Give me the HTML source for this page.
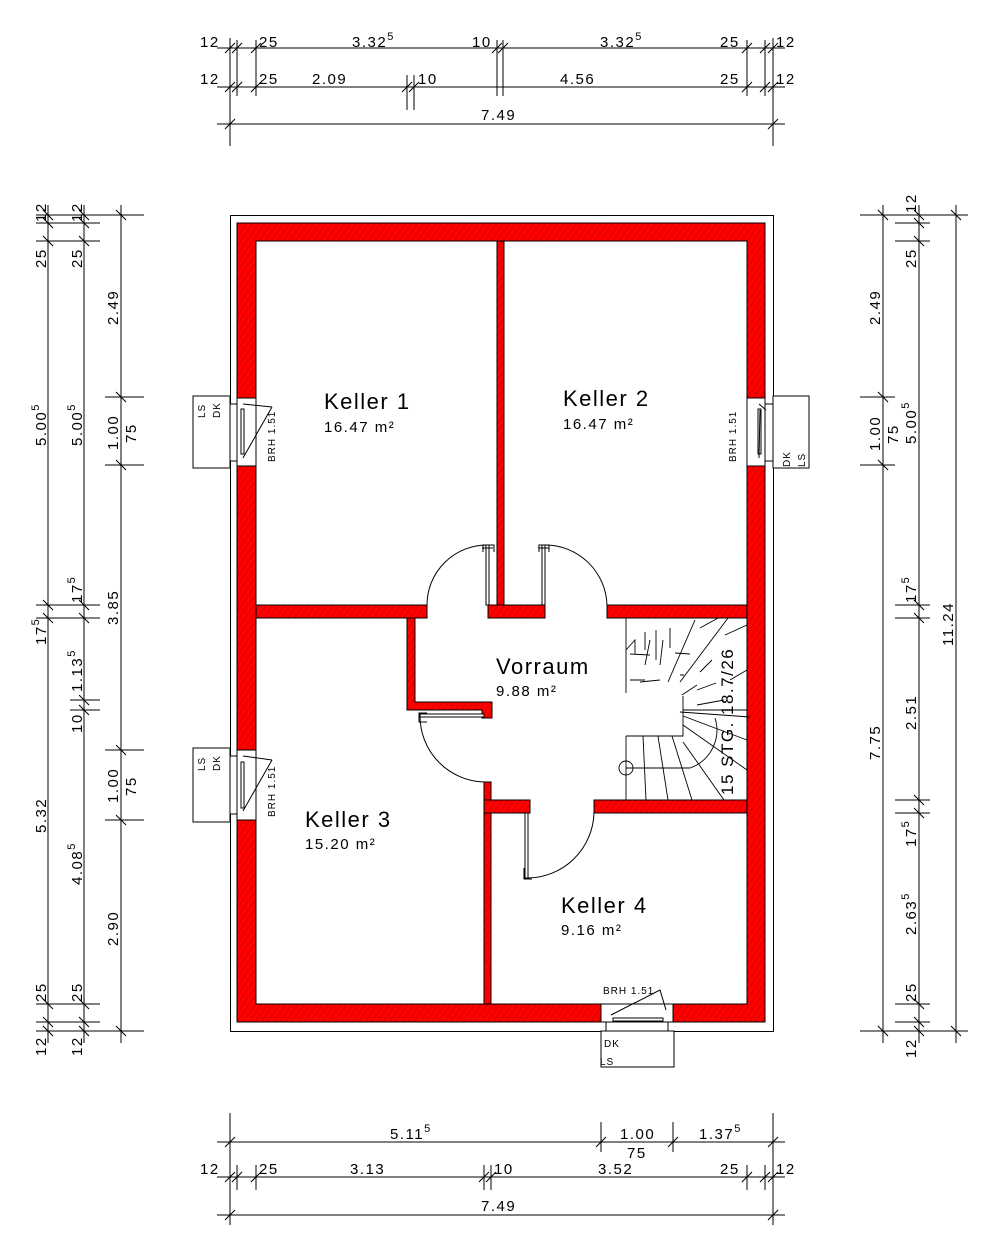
<!DOCTYPE html>
<html><head><meta charset="utf-8"><style>
html,body{margin:0;padding:0;background:#fff}
svg{display:block}
text{font-family:"Liberation Sans",sans-serif;fill:#000}
.d{font-size:15px;letter-spacing:1.5px}
.s{font-size:9px}
</style></head><body>
<svg width="1000" height="1245" viewBox="0 0 1000 1245" xmlns="http://www.w3.org/2000/svg">
<defs>
<pattern id="h" width="5" height="5" patternUnits="userSpaceOnUse" patternTransform="rotate(35)">
<rect width="5" height="5" fill="#ff0000"/>
<line x1="0" y1="0" x2="0" y2="5" stroke="#7a0000" stroke-width="0.6"/>
</pattern>
</defs>
<g stroke="#000" stroke-width="1" fill="none">
<rect x="230.5" y="215.5" width="543" height="816"/>
</g>
<g fill="url(#h)" stroke="#000" stroke-width="1">
<path d="M237 223H765V1022H237Z M256 241V1004H747V241Z" fill-rule="evenodd"/>
<rect x="497" y="241" width="7" height="364"/>
<rect x="256" y="605" width="171" height="13"/>
<rect x="488" y="605" width="57" height="13"/>
<rect x="607" y="605" width="140" height="13"/>
<path d="M407 618H415V702H492V718H482V710H407Z"/>
<rect x="484" y="782" width="7" height="222"/>
<rect x="484" y="800" width="46" height="13"/>
<rect x="594" y="800" width="153" height="13"/>
</g>
<g fill="#fff" stroke="#000" stroke-width="1">
<rect x="237" y="398" width="19" height="68"/>
<rect x="237" y="750" width="19" height="70"/>
<rect x="747" y="398" width="18" height="68"/>
<rect x="601" y="1004" width="72" height="18"/>
<rect x="230" y="404" width="7" height="57"/>
<rect x="230" y="756" width="7" height="58"/>
<rect x="765" y="404" width="8" height="57"/>
<rect x="606" y="1022" width="62" height="9"/>
<rect x="193" y="396" width="37" height="72"/>
<rect x="193" y="748" width="37" height="74"/>
<rect x="773" y="396" width="36" height="72"/>
<rect x="601" y="1031" width="73" height="36"/>
</g>
<g stroke="#000" stroke-width="1" fill="none">
<rect x="241" y="409" width="3" height="45"/>
<rect x="241" y="762" width="3" height="46"/>
<rect x="758" y="409" width="3" height="45"/>
<rect x="613" y="1018" width="50" height="3"/>
<path d="M243 404L272 407M243 458L272 407"/>
<path d="M243 756L272 760M243 811L272 760"/>
<path d="M759 404L766 410M759 458L760 410"/>
<path d="M611 1015L660 990L666 1010"/>
<path d="M488 545A60 60 0 0 0 427 605"/>
<path d="M545 545A62 62 0 0 1 607 605"/>
<path d="M420 716A66 66 0 0 0 484 782"/>
<path d="M527 878A67 67 0 0 0 594 813"/>
</g>
<g stroke="#000" stroke-width="1" fill="#fff">
<rect x="486" y="545" width="3" height="60"/>
<rect x="542" y="545" width="3" height="60"/>
<rect x="420" y="714" width="64" height="3"/>
<rect x="525" y="813" width="3" height="65"/>
<path d="M483 552V545H494V552M482 548H493" fill="none"/>
<path d="M539 552V545H549V552M538 548H549" fill="none"/>
<path d="M427 713H419V722H427" fill="none"/>
<path d="M524 868V879H532" fill="none"/>
</g>
<g stroke="#000" stroke-width="0.9" fill="none">
<path d="M626 618V693M626 736V800M626 736H683V696"/>
<path d="M643 736L646 800M658 736L668 800M672 736L692 800M683 742L724 800M683 725L747 770M683 716L747 740M680 712L750 717"/>
<path d="M626 768H690A40 40 0 0 0 715 718"/>
<circle cx="626" cy="768" r="7"/>
<path d="M626 650L635 640V654M645 632V650M656 630V660M670 628V648M640 682L660 680M630 680H645M645 665L650 640M660 665L663 640M668 682L695 620M680 682L728 618M680 675H684M682 695L697 685M697 690L716 683M697 705L724 700M700 672L712 660M683 710H747M700 628L718 618M725 635L747 625M730 680L747 670M630 654L650 655M675 653L690 654"/>
</g>
<text x="324" y="409" style="font-size:22px;letter-spacing:1.5px">Keller 1</text>
<text x="324" y="432" class="d">16.47 m²</text>
<text x="563" y="406" style="font-size:22px;letter-spacing:1.5px">Keller 2</text>
<text x="563" y="429" class="d">16.47 m²</text>
<text x="496" y="674" style="font-size:22px;letter-spacing:1.5px">Vorraum</text>
<text x="496" y="696" class="d">9.88 m²</text>
<text x="305" y="827" style="font-size:22px;letter-spacing:1.5px">Keller 3</text>
<text x="305" y="849" class="d">15.20 m²</text>
<text x="561" y="913" style="font-size:22px;letter-spacing:1.5px">Keller 4</text>
<text x="561" y="935" class="d">9.16 m²</text>
<text transform="translate(733,795) rotate(-90)" style="font-size:17px;letter-spacing:1.5px">15 STG. 18.7/26</text>
<g class="s" style="font-size:10px;letter-spacing:1px">
<text transform="translate(205,418) rotate(-90)">LS</text>
<text transform="translate(220,418) rotate(-90)">DK</text>
<text transform="translate(205,771) rotate(-90)">LS</text>
<text transform="translate(220,771) rotate(-90)">DK</text>
<text transform="translate(275,462) rotate(-90)">BRH 1.51</text>
<text transform="translate(275,817) rotate(-90)">BRH 1.51</text>
<text transform="translate(736,462) rotate(-90)">BRH 1.51</text>
<text transform="translate(790,467) rotate(-90)">DK</text>
<text transform="translate(805,467) rotate(-90)">LS</text>
<text x="603" y="994">BRH 1.51</text>
<text x="604" y="1047">DK</text>
<text x="600" y="1065">LS</text>
</g>
<g stroke="#000" stroke-width="1" fill="none">
<path d="M217 48H785M217 87H785M217 124H785"/>
<path d="M230 38V146M773 38V146M237 40V96M256 40V96M497 40V96M503 40V96M407 75V110M414 75V110M747 40V96M765 40V96"/>
<path d="M217 1142H785M217 1177H785M217 1215H785"/>
<path d="M230 1113V1225M773 1113V1225M601 1122V1152M673 1122V1152M237 1165V1190M256 1165V1190M484 1165V1190M491 1165V1190M747 1165V1190M765 1165V1190"/>
<path d="M48 205V1043M84 205V1043M121 205V1043"/>
<path d="M36 215H144M36 223H100M36 241H100M36 605H100M36 618H100M70 700H100M70 710H100M36 1004H100M36 1022H100M36 1031H144M105 397H144M105 465H144M105 750H144M105 820H144"/>
<path d="M883 205V1043M919 205V1043M956 205V1043"/>
<path d="M860 215H968M860 1031H968M860 397H895M860 465H895M895 223H930M895 241H930M895 605H930M895 618H930M895 800H930M895 813H930M895 1004H930M895 1022H930"/>
<path d="M225 53l10-10M232 53l10-10M251 53l10-10M492 53l10-10M498 53l10-10M742 53l10-10M760 53l10-10M768 53l10-10
M225 92l10-10M232 92l10-10M251 92l10-10M402 92l10-10M409 92l10-10M742 92l10-10M760 92l10-10M768 92l10-10
M225 129l10-10M768 129l10-10
M225 1147l10-10M596 1147l10-10M668 1147l10-10M768 1147l10-10
M225 1182l10-10M232 1182l10-10M251 1182l10-10M479 1182l10-10M486 1182l10-10M742 1182l10-10M760 1182l10-10M768 1182l10-10
M225 1220l10-10M768 1220l10-10
M43 210l10 10M43 218l10 10M43 236l10 10M43 600l10 10M43 613l10 10M43 999l10 10M43 1017l10 10M43 1026l10 10
M79 210l10 10M79 218l10 10M79 236l10 10M79 600l10 10M79 613l10 10M79 695l10 10M79 705l10 10M79 999l10 10M79 1017l10 10M79 1026l10 10
M116 210l10 10M116 392l10 10M116 460l10 10M116 745l10 10M116 815l10 10M116 1026l10 10
M878 210l10 10M878 392l10 10M878 460l10 10M878 1026l10 10
M914 210l10 10M914 218l10 10M914 236l10 10M914 600l10 10M914 613l10 10M914 795l10 10M914 808l10 10M914 999l10 10M914 1017l10 10M914 1026l10 10
M951 210l10 10M951 1026l10 10"/>
</g>
<g class="d">
<text x="200" y="47">12</text><text x="259" y="47">25</text><text x="352" y="47">3.32<tspan dy="-7" font-size="11">5</tspan></text>
<text x="472" y="47">10</text><text x="600" y="47">3.32<tspan dy="-7" font-size="11">5</tspan></text>
<text x="720" y="47">25</text><text x="776" y="47">12</text>
<text x="200" y="84">12</text><text x="259" y="84">25</text><text x="312" y="84">2.09</text><text x="418" y="84">10</text>
<text x="560" y="84">4.56</text><text x="720" y="84">25</text><text x="776" y="84">12</text>
<text x="481" y="120">7.49</text>
<text x="390" y="1139">5.11<tspan dy="-7" font-size="11">5</tspan></text>
<text x="620" y="1139">1.00</text><text x="699" y="1139">1.37<tspan dy="-7" font-size="11">5</tspan></text>
<text x="627" y="1158">75</text>
<text x="200" y="1174">12</text><text x="259" y="1174">25</text><text x="350" y="1174">3.13</text><text x="494" y="1174">10</text>
<text x="598" y="1174">3.52</text><text x="720" y="1174">25</text><text x="776" y="1174">12</text>
<text x="481" y="1211">7.49</text>
<text transform="translate(46,222) rotate(-90)">12</text>
<text transform="translate(46,268) rotate(-90)">25</text>
<text transform="translate(46,446) rotate(-90)">5.00<tspan dy="-7" font-size="11">5</tspan></text>
<text transform="translate(46,645) rotate(-90)">17<tspan dy="-7" font-size="11">5</tspan></text>
<text transform="translate(46,833) rotate(-90)">5.32</text>
<text transform="translate(46,1002) rotate(-90)">25</text>
<text transform="translate(46,1056) rotate(-90)">12</text>
<text transform="translate(82,222) rotate(-90)">12</text>
<text transform="translate(82,268) rotate(-90)">25</text>
<text transform="translate(82,446) rotate(-90)">5.00<tspan dy="-7" font-size="11">5</tspan></text>
<text transform="translate(82,603) rotate(-90)">17<tspan dy="-7" font-size="11">5</tspan></text>
<text transform="translate(82,692) rotate(-90)">1.13<tspan dy="-7" font-size="11">5</tspan></text>
<text transform="translate(82,733) rotate(-90)">10</text>
<text transform="translate(82,885) rotate(-90)">4.08<tspan dy="-7" font-size="11">5</tspan></text>
<text transform="translate(82,1002) rotate(-90)">25</text>
<text transform="translate(82,1056) rotate(-90)">12</text>
<text transform="translate(118,325) rotate(-90)">2.49</text>
<text transform="translate(118,450) rotate(-90)">1.00</text>
<text transform="translate(136,443) rotate(-90)">75</text>
<text transform="translate(118,625) rotate(-90)">3.85</text>
<text transform="translate(118,803) rotate(-90)">1.00</text>
<text transform="translate(136,796) rotate(-90)">75</text>
<text transform="translate(118,946) rotate(-90)">2.90</text>
<text transform="translate(916,213) rotate(-90)">12</text>
<text transform="translate(916,268) rotate(-90)">25</text>
<text transform="translate(880,325) rotate(-90)">2.49</text>
<text transform="translate(880,451) rotate(-90)">1.00</text>
<text transform="translate(898,444) rotate(-90)">75</text>
<text transform="translate(916,444) rotate(-90)">5.00<tspan dy="-7" font-size="11">5</tspan></text>
<text transform="translate(916,603) rotate(-90)">17<tspan dy="-7" font-size="11">5</tspan></text>
<text transform="translate(953,646) rotate(-90)">11.24</text>
<text transform="translate(880,760) rotate(-90)">7.75</text>
<text transform="translate(916,730) rotate(-90)">2.51</text>
<text transform="translate(916,847) rotate(-90)">17<tspan dy="-7" font-size="11">5</tspan></text>
<text transform="translate(916,935) rotate(-90)">2.63<tspan dy="-7" font-size="11">5</tspan></text>
<text transform="translate(916,1002) rotate(-90)">25</text>
<text transform="translate(916,1058) rotate(-90)">12</text>
</g>
</svg>
</body></html>
